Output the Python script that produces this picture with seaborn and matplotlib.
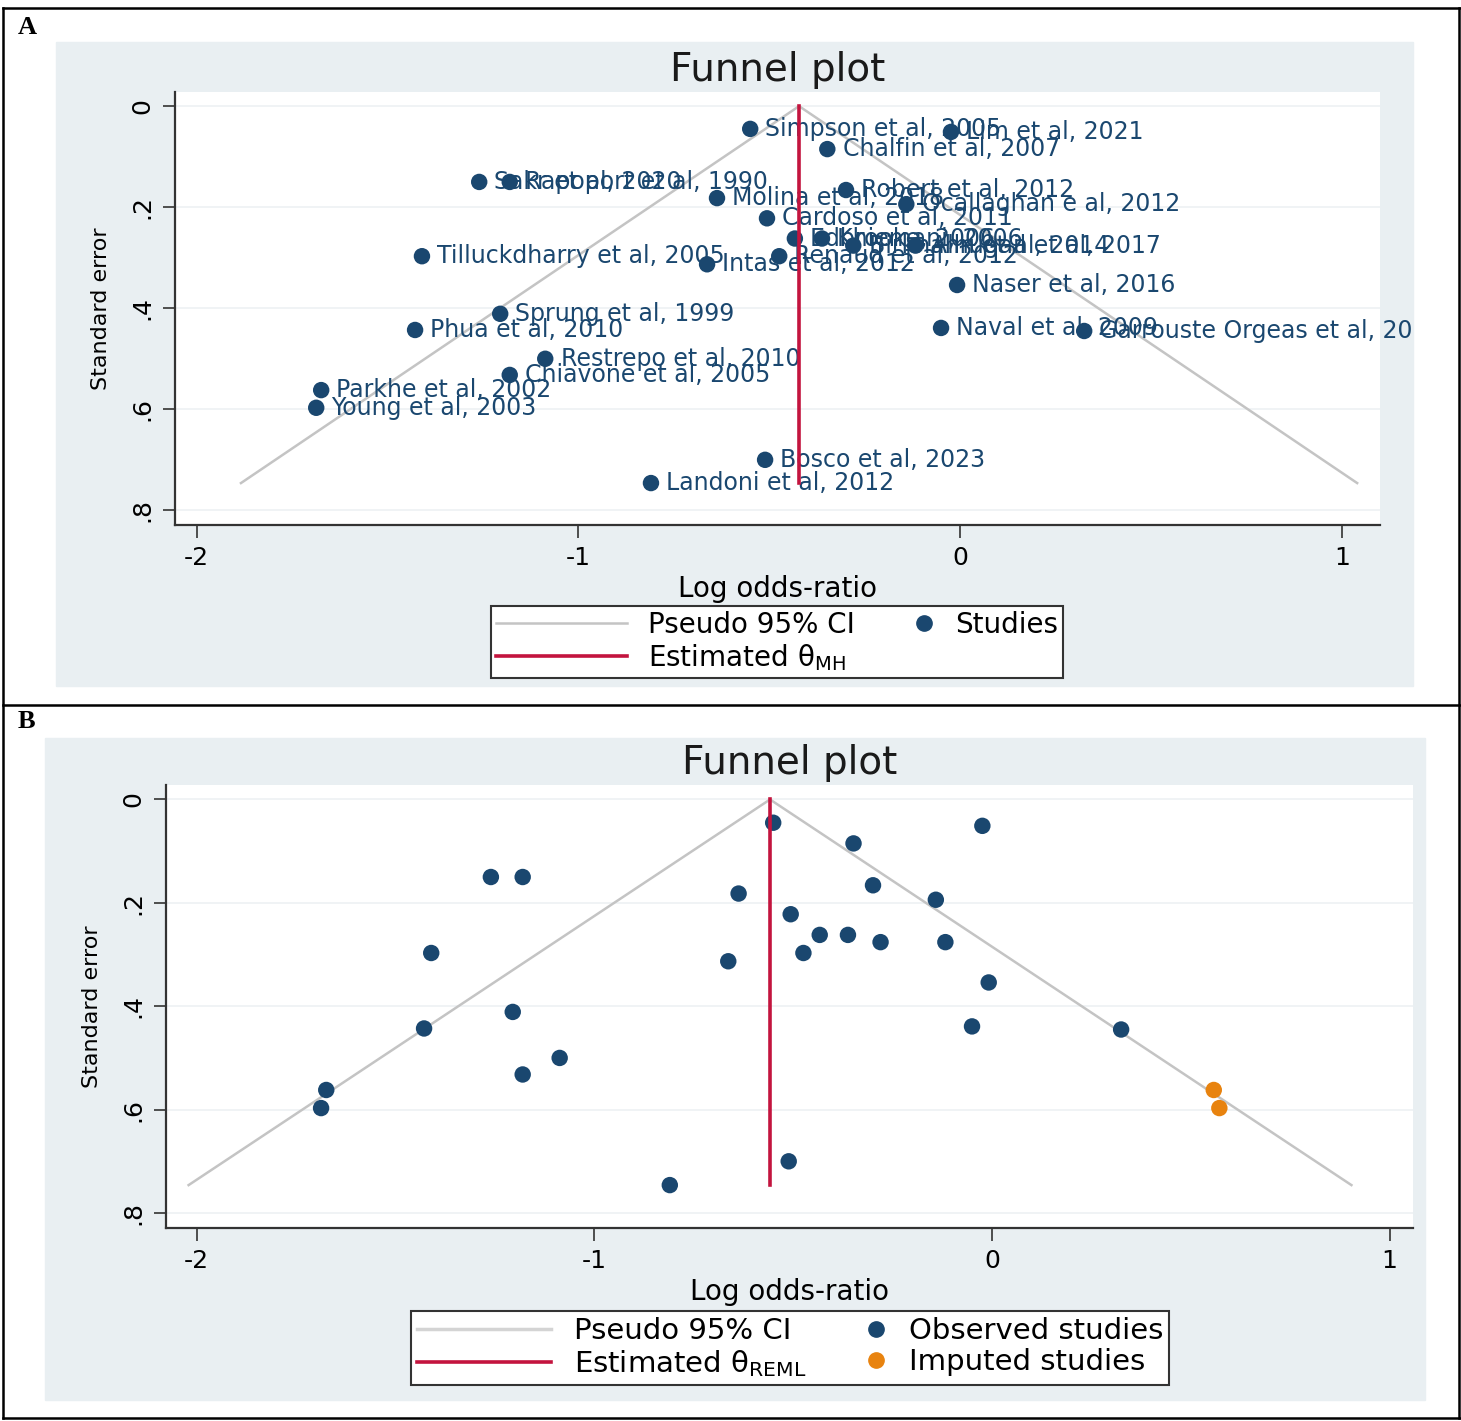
import numpy as np
import pandas as pd
import seaborn as sns
import matplotlib.pyplot as plt
from matplotlib.patches import Rectangle
from matplotlib.lines import Line2D
from matplotlib.legend_handler import HandlerBase

# Données des études (log odds-ratio et erreur standard)
studies = ['Simpson et al, 2005', 'Lim et al, 2021', 'Chalfin et al, 2007',
           'Sakr et al, 2020', 'Rapoport et al, 1990', 'Molina et al, 2018',
           'Robert et al, 2012', 'Ocallaghan e al, 2012', 'Cardoso et al, 2011',
           'Edbrooke, 2006', 'Khiemani, 2006', 'Birkhahn et al, 2014',
           'Alhugail et al, 2017', 'Tilluckdharry et al, 2005', 'Intas et al, 2012',
           'Renaud et al, 2012', 'Naser et al, 2016', 'Sprung et al, 1999',
           'Phua et al, 2010', 'Naval et al, 2009', 'Garrouste Orgeas et al, 2012',
           'Restrepo et al, 2010', 'Chiavone et al, 2005', 'Parkhe et al, 2002',
           'Young et al, 2003', 'Bosco et al, 2023', 'Landoni et al, 2012']
log_or = [-0.55, -0.024, -0.348, -1.26, -1.18, -0.637, -0.299, -0.141, -0.506,
          -0.433, -0.362, -0.280, -0.117, -1.41, -0.663, -0.474, -0.008, -1.205,
          -1.428, -0.05, 0.325, -1.087, -1.18, -1.674, -1.687, -0.511, -0.81]
se = [0.045, 0.051, 0.085, 0.150, 0.150, 0.182, 0.166, 0.194, 0.222,
      0.262, 0.262, 0.276, 0.276, 0.297, 0.313, 0.297, 0.354, 0.411,
      0.443, 0.439, 0.445, 0.500, 0.532, 0.562, 0.597, 0.700, 0.746]

theta_mh = -0.422
theta_reml = -0.558

# Études imputées (trim-and-fill)
imputed_or = [0.558, 0.572]
imputed_se = [0.562, 0.597]

df = pd.DataFrame({'study': studies, 'log_or': log_or, 'se': se})
df_imp = pd.DataFrame({'log_or': imputed_or, 'se': imputed_se})

W, H = 1461, 1421
NAVY = '#1a476f'
RED = '#c3143e'
ORANGE = '#e8830f'
GREY = '#c4c4c4'
BG = '#e9eff2'
plt.rcParams['font.family'] = ['DejaVu Sans']

fig = plt.figure(figsize=(W / 100, H / 100), dpi=100)


def px_axes(l, t, r, b):
    return fig.add_axes([l / W, 1 - b / H, (r - l) / W, (b - t) / H])


def bg_rect(l, t, r, b):
    rect = Rectangle((l / W, 1 - b / H), (r - l) / W, (b - t) / H,
                     transform=fig.transFigure, color=BG, zorder=-5)
    fig.patches.append(rect)
    return rect


class DotHandler(HandlerBase):
    # point placé à droite de la case, près du texte (comme Stata)
    def create_artists(self, legend, orig_handle, xdescent, ydescent,
                       width, height, fontsize, trans):
        dot = Line2D([width - xdescent - 7], [height / 2 - ydescent], marker='o',
                     ls='none', color=orig_handle.get_color(),
                     markersize=orig_handle.get_markersize(), transform=trans)
        return [dot]


def funnel(ax, theta, xlim):
    top = max(se)
    ax.plot([theta - 1.96 * top, theta, theta + 1.96 * top], [top, 0, top],
            color=GREY, lw=1.8, zorder=1)
    ax.plot([theta, theta], [0, top], color=RED, lw=2.6, zorder=5)
    ax.set_xlim(*xlim)
    ax.set_ylim(0.829, -0.028)
    ax.set_xticks([-2, -1, 0, 1])
    ax.set_xticklabels(['-2', '-1', '0', '1'], fontsize=18)
    ax.set_yticks([0, 0.2, 0.4, 0.6, 0.8])
    ax.set_yticklabels(['0', '.2', '.4', '.6', '.8'], fontsize=18, rotation=90, va='center')
    ax.tick_params(axis='both', length=9, width=1.2, color='#333333', pad=6)
    ax.grid(axis='y', color='#edf1f3', lw=1.2, zorder=0)
    ax.set_axisbelow(True)
    for s in ['top', 'right']:
        ax.spines[s].set_visible(False)
    for s in ['left', 'bottom']:
        ax.spines[s].set_color('#333333')
        ax.spines[s].set_linewidth(1.6)
    ax.set_title('Funnel plot', fontsize=28, pad=8, color='#1a1a1a')
    ax.set_xlabel('Log odds-ratio', fontsize=20, labelpad=4)
    ax.set_ylabel('Standard error', fontsize=16, labelpad=14)


def make_legend(handles, labels, cx, cy, size, hlen, tpad, cspace, dots):
    leg = fig.legend(handles, labels, ncol=2, loc='center',
                     bbox_to_anchor=(cx / W, 1 - cy / H), fontsize=size,
                     handlelength=hlen, columnspacing=cspace, labelspacing=0.1,
                     fancybox=False, framealpha=1, edgecolor='#333333',
                     borderpad=0.2, borderaxespad=0, handletextpad=tpad,
                     handler_map={d: DotHandler() for d in dots})
    leg.get_frame().set_linewidth(1.5)
    return leg


# ---------- Panel A ----------
bgA = bg_rect(56, 42, 1413, 686)
axA = px_axes(175, 92, 1380, 525)
sns.scatterplot(data=df, x='log_or', y='se', ax=axA, color=NAVY, s=140,
                edgecolor='none', zorder=3, legend=False)
for name, x, y in zip(studies, log_or, se):
    t = axA.annotate(name, (x, y), xytext=(11, 0), textcoords='offset points',
                     va='center', ha='left', fontsize=17, color=NAVY, zorder=4,
                     annotation_clip=False)
    t.set_clip_path(bgA)
funnel(axA, theta_mh, (-2.057, 1.100))

dotA = Line2D([], [], color=NAVY, marker='o', ls='none', markersize=11)
handlesA = [Line2D([], [], color=GREY, lw=1.8), Line2D([], [], color=RED, lw=2.6), dotA]
labelsA = ['Pseudo 95% CI', r'Estimated θ$_\mathregular{MH}$', 'Studies']
make_legend(handlesA, labelsA, 777, 642, 20, 4.7, 0.75, -1.85, [dotA])

# ---------- Panel B ----------
bg_rect(45, 738, 1425, 1400)
axB = px_axes(166, 785, 1413, 1228)
sns.scatterplot(data=df, x='log_or', y='se', ax=axB, color=NAVY, s=140,
                edgecolor='none', zorder=3, legend=False)
sns.scatterplot(data=df_imp, x='log_or', y='se', ax=axB, color=ORANGE, s=140,
                edgecolor='none', zorder=3, legend=False)
funnel(axB, theta_reml, (-2.077, 1.059))

dotB1 = Line2D([], [], color=NAVY, marker='o', ls='none', markersize=11)
dotB2 = Line2D([], [], color=ORANGE, marker='o', ls='none', markersize=11)
handlesB = [Line2D([], [], color='#d4d4d4', lw=2.5), Line2D([], [], color=RED, lw=2.6),
            dotB1, dotB2]
labelsB = ['Pseudo 95% CI', r'Estimated θ$_\mathregular{REML}$',
           'Observed studies', 'Imputed studies']
make_legend(handlesB, labelsB, 790, 1348, 21, 4.6, 0.8, -1.9, [dotB1, dotB2])

# ---------- cadre du tableau ----------
for (x0, y0, x1, y1) in [(3, 8, 1460, 8), (3, 705, 1460, 705), (3, 1418, 1460, 1418),
                         (3, 8, 3, 1418), (1459, 8, 1459, 1418)]:
    fig.add_artist(Line2D([x0 / W, x1 / W], [1 - y0 / H, 1 - y1 / H],
                          color='black', lw=1.8, transform=fig.transFigure))
fig.text(18 / W, 1 - 28 / H, 'A', fontsize=19, fontweight='bold',
         family='Liberation Serif', va='center')
fig.text(18 / W, 1 - 722 / H, 'B', fontsize=19, fontweight='bold',
         family='Liberation Serif', va='center')

fig.savefig('out.png', dpi=100)
